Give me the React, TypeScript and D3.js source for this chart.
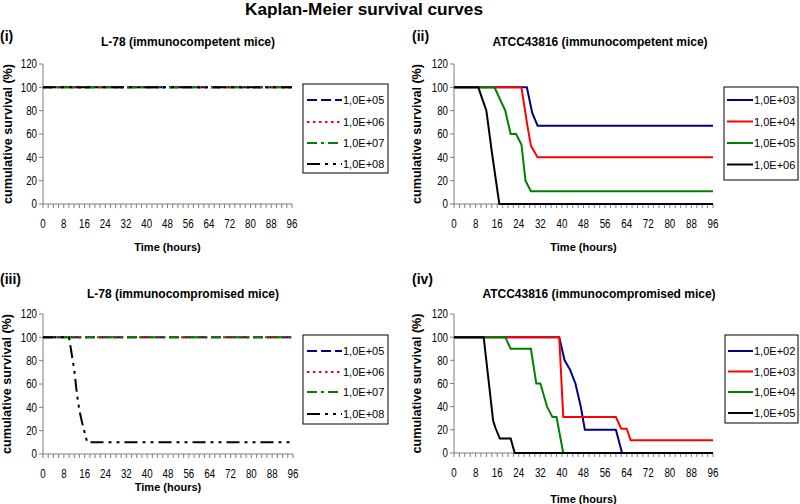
import * as d3 from 'd3'

// shared axis ticks
const timeTicks = [0, 8, 16, 24, 32, 40, 48, 56, 64, 72, 80, 88, 96]
const minorTimeTicks = d3.range(0, 97, 2)
const survivalTicks = [0, 20, 40, 60, 80, 100, 120]

// (i) L-78, immunocompetent
const p1Doses = ['1,0E+05', '1,0E+06', '1,0E+07', '1,0E+08']
const p1Dose05 = [[0, 100], [96, 100]]
const p1Dose06 = [[0, 100], [96, 100]]
const p1Dose07 = [[0, 100], [96, 100]]
const p1Dose08 = [[0, 100], [96, 100]]

// (ii) ATCC43816, immunocompetent
const p2Doses = ['1,0E+03', '1,0E+04', '1,0E+05', '1,0E+06']
const p2Dose03 = [[0, 100], [27, 100], [29, 78], [31, 67], [96, 67]]
const p2Dose04 = [[0, 100], [25, 100], [27, 70], [28.5, 50], [31, 40], [96, 40]]
const p2Dose05 = [[0, 100], [15, 100], [17, 90], [19, 80], [21, 60], [23, 60], [25, 51], [26.5, 20], [28.5, 11], [96, 11]]
const p2Dose06 = [[0, 100], [9, 100], [12, 80], [14, 45], [16.8, 0], [96, 0]]

// (iii) L-78, immunocompromised
const p3Doses = ['1,0E+05', '1,0E+06', '1,0E+07', '1,0E+08']
const p3Dose05 = [[0, 100], [96, 100]]
const p3Dose06 = [[0, 100], [96, 100]]
const p3Dose07 = [[0, 100], [96, 100]]
const p3Dose08 = [[0, 100], [10, 100], [12, 72], [13, 52], [14, 37], [15, 27], [17, 10], [96, 10]]

// (iv) ATCC43816, immunocompromised
const p4Doses = ['1,0E+02', '1,0E+03', '1,0E+04', '1,0E+05']
const p4Dose02 = [[0, 100], [39, 100], [41, 80], [43, 72], [45, 60], [47, 40], [48.5, 20], [60, 20], [62.3, 0], [96, 0]]
const p4Dose03 = [[0, 100], [39, 100], [40.5, 31], [60, 31], [62, 21], [64, 21], [65.5, 11], [96, 11]]
const p4Dose04 = [[0, 100], [19, 100], [21, 90], [28.5, 90], [30.5, 60], [32, 60], [34.5, 40], [36.5, 31], [38, 31], [40.5, 0], [96, 0]]
const p4Dose05 = [[0, 100], [11, 100], [14.5, 28], [15.3, 22], [17, 12.5], [21, 12.5], [22.5, 0], [96, 0]]

const NAVY = '#000080'
const RED = '#ff0000'
const GREEN = '#008000'
const BLACK = '#000000'
const AXIS = '#7f7f7f'
const FONT = '"Liberation Sans", Arial, sans-serif'

const dashStyles = {
  longDash: '10,4',
  dot: '2.5,3.5',
  dashDot: '10,4,3,4',
  dashDotDot: '13,5,3,5,3,5',
}

type Series = { label: string; data: number[][]; color: string; dash?: string }

type PanelCfg = {
  tag: string
  title: string
  x0: number
  x1: number
  yTop: number
  yBot: number
  ox: number
  tagY: number
  titleX: number
  titleY: number
  yLabelX: number
  xLabelY: number
  legend: { x: number; y: number; w: number; h: number; rows: number[]; lx0: number; lx1: number }
  series: Series[]
}

const panels: PanelCfg[] = [
  {
    tag: '(i)', title: 'L-78 (immunocompetent mice)',
    x0: 43, x1: 292, yTop: 64, yBot: 204, ox: 0, tagY: 41, titleX: 188, titleY: 46, yLabelX: 7.5, xLabelY: 251,
    legend: { x: 303, y: 84, w: 85, h: 89, rows: [100, 122, 143, 164], lx0: 307, lx1: 342 },
    series: [
      { label: p1Doses[0], data: p1Dose05, color: NAVY, dash: dashStyles.longDash },
      { label: p1Doses[1], data: p1Dose06, color: RED, dash: dashStyles.dot },
      { label: p1Doses[2], data: p1Dose07, color: GREEN, dash: dashStyles.dashDot },
      { label: p1Doses[3], data: p1Dose08, color: BLACK, dash: dashStyles.dashDotDot },
    ],
  },
  {
    tag: '(ii)', title: 'ATCC43816 (immunocompetent mice)',
    x0: 454, x1: 713, yTop: 64, yBot: 204, ox: 412, tagY: 41, titleX: 600, titleY: 46, yLabelX: 417, xLabelY: 251,
    legend: { x: 724, y: 87, w: 74, h: 93, rows: [100, 121.5, 143, 164.5], lx0: 727, lx1: 753 },
    series: [
      { label: p2Doses[0], data: p2Dose03, color: NAVY },
      { label: p2Doses[1], data: p2Dose04, color: RED },
      { label: p2Doses[2], data: p2Dose05, color: GREEN },
      { label: p2Doses[3], data: p2Dose06, color: BLACK },
    ],
  },
  {
    tag: '(iii)', title: 'L-78 (immunocompromised mice)',
    x0: 43, x1: 293, yTop: 314, yBot: 454, ox: 0, tagY: 284, titleX: 183, titleY: 298, yLabelX: 6.5, xLabelY: 491,
    legend: { x: 303, y: 335, w: 85, h: 89, rows: [351, 372, 392, 414], lx0: 307, lx1: 342 },
    series: [
      { label: p3Doses[0], data: p3Dose05, color: NAVY, dash: dashStyles.longDash },
      { label: p3Doses[1], data: p3Dose06, color: RED, dash: dashStyles.dot },
      { label: p3Doses[2], data: p3Dose07, color: GREEN, dash: dashStyles.dashDot },
      { label: p3Doses[3], data: p3Dose08, color: BLACK, dash: dashStyles.dashDotDot },
    ],
  },
  {
    tag: '(iv)', title: 'ATCC43816 (immunocompromised mice)',
    x0: 454, x1: 713, yTop: 314, yBot: 453, ox: 412, tagY: 284, titleX: 599, titleY: 298, yLabelX: 417, xLabelY: 503,
    legend: { x: 725, y: 335, w: 73, h: 88, rows: [351, 371.5, 392, 413], lx0: 728, lx1: 753 },
    series: [
      { label: p4Doses[0], data: p4Dose02, color: NAVY },
      { label: p4Doses[1], data: p4Dose03, color: RED },
      { label: p4Doses[2], data: p4Dose04, color: GREEN },
      { label: p4Doses[3], data: p4Dose05, color: BLACK },
    ],
  },
]

// condensed tick label (no narrow font installed, so squeeze horizontally)
function Narrow({ x, y, anchor, children, central }: { x: number; y: number; anchor: string; children: any; central?: boolean }) {
  return (
    <text
      transform={`translate(${x},${y}) scale(0.78,1)`}
      textAnchor={anchor}
      dominantBaseline={central ? 'central' : undefined}
      fontFamily={FONT}
      fontSize={12.5}
    >
      {children}
    </text>
  )
}

function Panel({ cfg }: { cfg: PanelCfg }) {
  const x = d3.scaleLinear().domain([0, 96]).range([cfg.x0, cfg.x1])
  const y = d3.scaleLinear().domain([0, 120]).range([cfg.yBot, cfg.yTop])
  const line = d3.line<number[]>().x((d) => x(d[0])).y((d) => y(d[1]))
  const lg = cfg.legend
  return (
    <g>
      <text x={cfg.ox} y={cfg.tagY} fontFamily={FONT} fontSize={14} fontWeight="bold">{cfg.tag}</text>
      <text x={cfg.titleX} y={cfg.titleY} textAnchor="middle" fontFamily={FONT} fontSize={12} fontWeight="bold">{cfg.title}</text>
      <text
        transform={`translate(${cfg.yLabelX},${(cfg.yTop + cfg.yBot) / 2}) rotate(-90)`}
        textAnchor="middle" dominantBaseline="central" fontFamily={FONT} fontSize={12} fontWeight="bold"
        textLength={140} lengthAdjust="spacingAndGlyphs"
      >cumulative survival (%)</text>

      {/* y axis */}
      <line x1={x(0)} x2={x(0)} y1={y(120)} y2={y(0)} stroke={AXIS} strokeWidth={1} />
      {survivalTicks.map((t) => (
        <g key={t}>
          <line x1={x(0) - 4} x2={x(0)} y1={y(t)} y2={y(t)} stroke={AXIS} />
          <Narrow x={x(0) - 6} y={y(t)} anchor="end" central>{t}</Narrow>
        </g>
      ))}

      {/* x axis */}
      <line x1={x(0)} x2={x(96)} y1={y(0)} y2={y(0)} stroke={AXIS} strokeWidth={1} />
      {minorTimeTicks.map((t) => (
        <line key={t} x1={x(t)} x2={x(t)} y1={y(0)} y2={y(0) + 4} stroke={AXIS} />
      ))}
      {timeTicks.map((t) => (
        <Narrow key={t} x={x(t)} y={y(0) + 24} anchor="middle">{t}</Narrow>
      ))}
      <text x={(x(0) + x(96)) / 2} y={cfg.xLabelY} textAnchor="middle" fontFamily={FONT} fontSize={11} fontWeight="bold">Time (hours)</text>

      {/* curves */}
      {cfg.series.map((s) => (
        <path key={s.label} d={line(s.data) || ''} fill="none" stroke={s.color} strokeWidth={2} strokeDasharray={s.dash} />
      ))}

      {/* legend */}
      <rect x={lg.x} y={lg.y} width={lg.w} height={lg.h} fill="white" stroke="black" strokeWidth={1} />
      {cfg.series.map((s, i) => (
        <g key={s.label}>
          <line x1={lg.lx0} x2={lg.lx1} y1={lg.rows[i]} y2={lg.rows[i]} stroke={s.color} strokeWidth={2} strokeDasharray={s.dash} />
          <text x={lg.lx1 + 1} y={lg.rows[i]} dominantBaseline="central" fontFamily={FONT} fontSize={11}>{s.label}</text>
        </g>
      ))}
    </g>
  )
}

export default function App() {
  return (
    <svg width={800} height={504} viewBox="0 0 800 504" style={{ position: 'absolute', left: 0, top: 0, background: 'white' }}>
      <rect width={800} height={504} fill="white" />
      <text x={364} y={15} textAnchor="middle" fontFamily={FONT} fontSize={16.5} fontWeight="bold" textLength={238} lengthAdjust="spacingAndGlyphs">
        Kaplan-Meier survival curves
      </text>
      {panels.map((p) => (
        <Panel key={p.tag} cfg={p} />
      ))}
    </svg>
  )
}
